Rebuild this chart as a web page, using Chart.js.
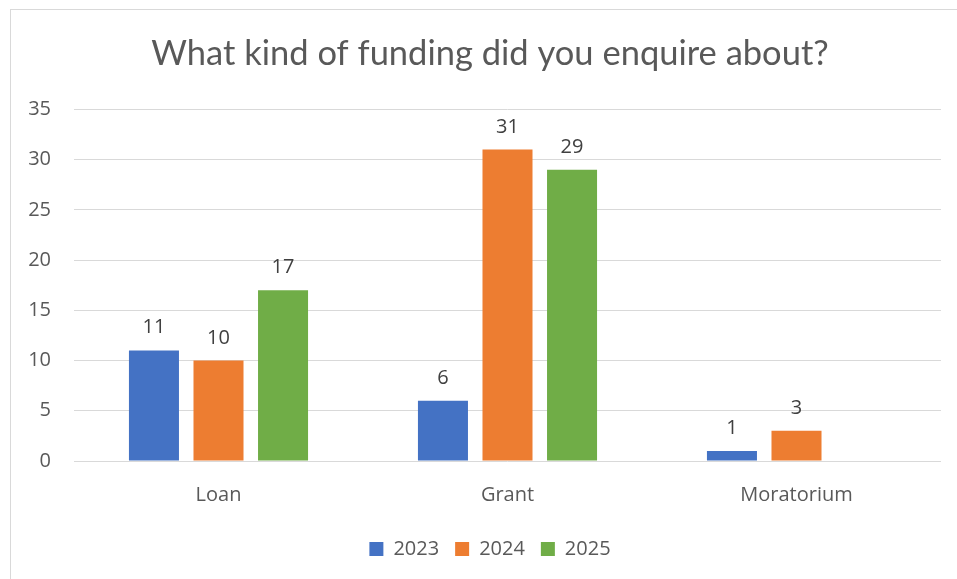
<!DOCTYPE html>
<html lang="en">
<head>
    <meta charset="UTF-8">
    <title>Funding enquiries</title>
    <script src="https://cdn.jsdelivr.net/npm/chart.js"></script>
    <style>
        body {
            margin: 0;
            background: #ffffff;
            overflow: hidden;
        }

        .frame {
            position: absolute;
            left: 10px;
            top: 9px;
            width: 980px;
            height: 620px;
            border: 1px solid #d9d9d9;
        }

        /* the frame runs a little past the right edge of the window */
        .chart-container {
            position: relative;
            width: 980px;
            height: 579px;
        }
    </style>
</head>
<body>
<div class="frame"></div>
<div class="chart-container">
    <canvas id="fundingChart"></canvas>
</div>
<script>
    // funding types and enquiry counts per year
    const categories = ['Loan', 'Grant', 'Moratorium'];
    const years = ['2023', '2024', '2025'];
    const counts2023 = [11, 6, 1];
    const counts2024 = [10, 31, 3];
    const counts2025 = [17, 29, null];
    const yTicks = [0, 5, 10, 15, 20, 25, 30, 35];

    const colors = ['#4472c4', '#ed7d31', '#70ad47'];
    const series = [counts2023, counts2024, counts2025];

    // writes each bar's value just above it
    const valueLabels = {
        id: 'valueLabels',
        afterDatasetsDraw(chart) {
            const ctx = chart.ctx;
            ctx.save();
            ctx.font = '20px "Open Sans", sans-serif';
            ctx.fillStyle = '#404040';
            ctx.textAlign = 'center';
            ctx.textBaseline = 'alphabetic';
            chart.data.datasets.forEach((ds, i) => {
                const meta = chart.getDatasetMeta(i);
                meta.data.forEach((bar, j) => {
                    const v = ds.data[j];
                    if (v === null || v === undefined) return;
                    ctx.fillText(String(v), bar.x, bar.y - 17);
                });
            });
            ctx.restore();
        }
    };

    new Chart(document.getElementById('fundingChart'), {
        type: 'bar',
        data: {
            labels: categories,
            datasets: years.map((y, i) => ({
                label: y,
                data: series[i],
                backgroundColor: colors[i],
                borderWidth: 0,
                categoryPercentage: 0.67,
                barPercentage: 0.775
            }))
        },
        options: {
            responsive: true,
            maintainAspectRatio: false,
            animation: false,
            layout: {
                padding: { top: 0, right: 0, bottom: 10, left: 0 }
            },
            scales: {
                x: {
                    grid: { display: false },
                    border: { display: false },
                    ticks: {
                        color: '#595959',
                        font: { family: 'Open Sans', size: 20 },
                        padding: 14
                    },
                    afterFit(scale) {
                        scale.height = 62;
                    }
                },
                y: {
                    min: 0,
                    max: 35,
                    afterBuildTicks(scale) {
                        scale.ticks = yTicks.map(v => ({ value: v }));
                    },
                    grid: {
                        color: '#d9d9d9',
                        lineWidth: 1,
                        drawTicks: false
                    },
                    border: { display: false },
                    ticks: {
                        color: '#595959',
                        font: { family: 'Open Sans', size: 20 },
                        padding: 23
                    },
                    afterFit(scale) {
                        scale.width = 74;
                    }
                },
                // empty strip on the right so the plot stops short of the frame
                spacer: {
                    type: 'linear',
                    position: 'right',
                    grid: { display: false },
                    border: { display: false },
                    ticks: { display: false },
                    afterFit(scale) {
                        scale.width = 39;
                    }
                }
            },
            plugins: {
                title: {
                    display: true,
                    text: 'What kind of funding did you enquire about?',
                    color: '#595959',
                    font: { family: 'Lato', size: 34.5, weight: 'normal' },
                    padding: { top: 33, bottom: 35 }
                },
                legend: {
                    position: 'bottom',
                    labels: {
                        color: '#595959',
                        font: { family: 'Open Sans', size: 20 },
                        boxWidth: 14,
                        boxHeight: 14,
                        padding: 16
                    }
                },
                tooltip: { enabled: false }
            }
        },
        plugins: [valueLabels]
    });
</script>
</body>
</html>
